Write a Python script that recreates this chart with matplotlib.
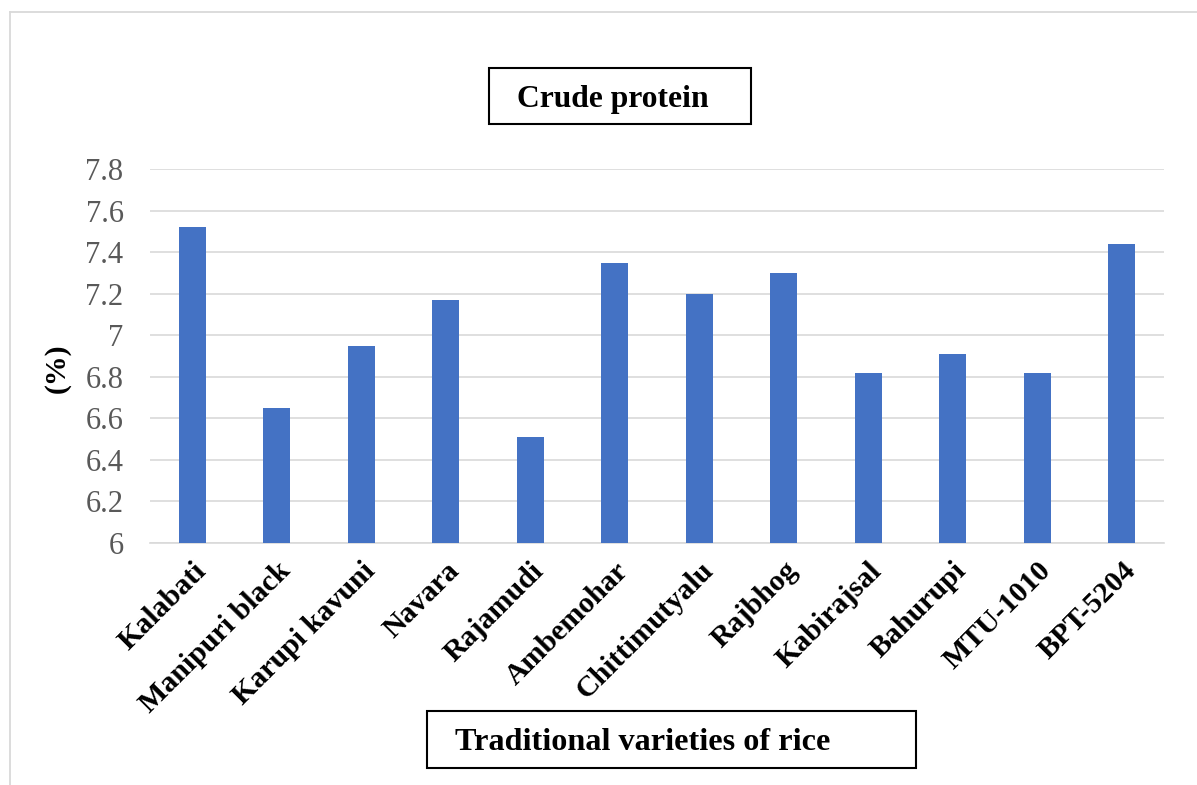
import matplotlib.pyplot as plt
from matplotlib.patches import Rectangle
from matplotlib.lines import Line2D

varieties = ['Kalabati', 'Manipuri black', 'Karupi kavuni', 'Navara', 'Rajamudi',
             'Ambemohar', 'Chittimutyalu', 'Rajbhog', 'Kabirajsal', 'Bahurupi',
             'MTU-1010', 'BPT-5204']
protein = [7.52, 6.65, 6.95, 7.17, 6.51, 7.35, 7.20, 7.30, 6.82, 6.91, 6.82, 7.44]
y_ticks = [6, 6.2, 6.4, 6.6, 6.8, 7, 7.2, 7.4, 7.6, 7.8]
y_tick_labels = ['6', '6.2', '6.4', '6.6', '6.8', '7', '7.2', '7.4', '7.6', '7.8']

plt.rcParams['font.family'] = ['Liberation Serif', 'DejaVu Serif']

W, H = 1197, 785
fig = plt.figure(figsize=(W / 100, H / 100), dpi=100)


def fx(px):
    return px / W


def fy(py):
    return 1 - py / H


ax = fig.add_axes([fx(150), fy(543), fx(1164) - fx(150), fy(169.3) - fy(543)])

x = range(len(varieties))
ax.bar(x, protein, width=0.315, color='#4472C4', zorder=3)

ax.set_xlim(-0.5, len(varieties) - 0.5)
ax.set_ylim(6, 7.8)
ax.set_yticks(y_ticks)
ax.set_yticklabels(y_tick_labels, fontsize=22, color='#595959')
ax.tick_params(axis='y', length=0, pad=19)
ax.set_xticks(list(x))
ax.set_xticklabels(varieties, rotation=45, ha='right', rotation_mode='anchor',
                   fontsize=21.5, fontweight='bold', color='black')
ax.tick_params(axis='x', length=0, pad=10)

ax.grid(axis='y', color='#D9D9D9', linewidth=1.2, zorder=0)
for s in ['top', 'right', 'left']:
    ax.spines[s].set_visible(False)
ax.spines['bottom'].set_color('#D9D9D9')
ax.spines['bottom'].set_linewidth(1.2)

fig.text(fx(57), fy(368), '(%)', rotation=90, ha='center', va='center',
         fontsize=21.5, fontweight='bold')

# outer chart border (only left and top visible)
fig.add_artist(Line2D([fx(9.5), fx(9.5)], [fy(12), 0], color='#D9D9D9', linewidth=1.3))
fig.add_artist(Line2D([fx(9.5), 1], [fy(12), fy(12)], color='#D9D9D9', linewidth=1.3))

# title box
fig.add_artist(Rectangle((fx(489), fy(124)), fx(751) - fx(489), fy(68) - fy(124),
                         fill=False, edgecolor='black', linewidth=1.5))
fig.text(fx(517), fy(99), 'Crude protein', ha='left', va='center',
         fontsize=22.8, fontweight='bold')

# x axis title box
fig.add_artist(Rectangle((fx(427), fy(768)), fx(916) - fx(427), fy(711) - fy(768),
                         fill=False, edgecolor='black', linewidth=1.5))
fig.text(fx(455), fy(743), 'Traditional varieties of rice', ha='left', va='center',
         fontsize=23.2, fontweight='bold')

fig.savefig('out.png', dpi=100)
